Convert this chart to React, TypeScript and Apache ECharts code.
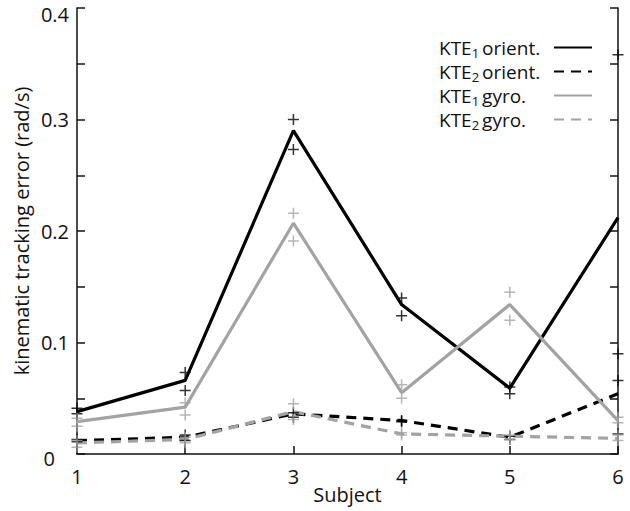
import React, { useEffect, useRef } from "react";
import * as echarts from "echarts";

const subjects = [1, 2, 3, 4, 5, 6];
const yTicks = [0, 0.1, 0.2, 0.3, 0.4];

const seriesNames = ["KTE1 orient.", "KTE2 orient.", "KTE1 gyro.", "KTE2 gyro."];

const kte1OrientMean = [0.038, 0.066, 0.290, 0.134, 0.059, 0.212];
const kte2OrientMean = [0.012, 0.015, 0.036, 0.030, 0.015, 0.054];
const kte1GyroMean = [0.029, 0.042, 0.207, 0.055, 0.134, 0.030];
const kte2GyroMean = [0.010, 0.013, 0.038, 0.018, 0.016, 0.014];

const kte1OrientTrialA = [0.041, 0.073, 0.300, 0.140, 0.060, 0.358];
const kte1OrientTrialB = [0.036, 0.057, 0.273, 0.124, 0.054, 0.066];
const kte2OrientTrialA = [0.013, 0.017, 0.037, 0.029, 0.016, 0.090];
const kte2OrientTrialB = [0.011, 0.012, 0.033, 0.030, 0.013, 0.018];
const kte1GyroTrialA = [0.032, 0.046, 0.216, 0.062, 0.145, 0.033];
const kte1GyroTrialB = [0.025, 0.035, 0.191, 0.050, 0.120, 0.028];
const kte2GyroTrialA = [0.012, 0.015, 0.045, 0.017, 0.017, 0.017];
const kte2GyroTrialB = [0.006, 0.010, 0.031, 0.019, 0.013, 0.012];

const BLACK = "#000000";
const GRAY = "#a3a3a3";
const FONT = "Open Sans";

const pair = (vals: number[]) => subjects.map((s, i) => [s, vals[i]]);

export default function App() {
  const ref = useRef<HTMLDivElement>(null);
  useEffect(() => {
    document.body.style.margin = "0";
    const chart = echarts.init(ref.current!, null, { renderer: "svg" });
    const lineSeries = (name: string, vals: number[], color: string, dashed: boolean) => ({
      name,
      type: "line",
      data: pair(vals),
      symbol: "none",
      lineStyle: { color, width: 3.2, type: dashed ? [10, 7] : "solid" },
      itemStyle: { color },
      z: 3,
    });
    const plus = "path://M5,0V10M0,5H10";
    const markerSeries = (vals: number[], color: string) => ({
      type: "scatter",
      data: pair(vals),
      symbol: plus,
      symbolSize: 11,
      itemStyle: { color: "none", borderColor: color, borderWidth: 1.5 },
      z: 4,
      silent: true,
    });
    const richLegend = {
      a: { fontFamily: FONT, fontSize: 19, color: "#111", lineHeight: 23, align: "left" },
      s: { fontFamily: FONT, fontSize: 13, color: "#111", lineHeight: 11, verticalAlign: "bottom", align: "left", padding: [0, 3, 0, 0] },
      b: { fontFamily: FONT, fontSize: 19, color: "#111", lineHeight: 23, align: "left" },
    };
    const option: any = {
      animation: false,
      backgroundColor: "#fff",
      grid: { left: 77, right: 12, top: 8, bottom: 57, outerBoundsMode: "none", containLabel: false },
      legend: {
        data: seriesNames,
        right: 32,
        top: 33,
        orient: "vertical",
        align: "right",
        itemWidth: 38,
        itemHeight: 14,
        itemGap: 3,
        itemStyle: { opacity: 0 },
        textStyle: { fontFamily: FONT, fontSize: 19, color: "#111", width: 110, rich: richLegend },
        formatter: (name: string) => {
          const m = name.match(/^KTE(\d) (.*)$/);
          if (!m) return name;
          return `{a|KTE}{s|${m[1]}}{b|${m[2]}}`;
        },
      },
      xAxis: {
        type: "value",
        min: 1,
        max: 6,
        interval: 1,
        name: "Subject",
        nameLocation: "middle",
        nameGap: 30,
        nameMoveOverlap: false,
        nameTextStyle: { fontFamily: FONT, fontSize: 20, color: "#111" },
        axisLine: { show: true, lineStyle: { color: "#111", width: 1.5 } },
        axisTick: { show: true, inside: true, length: 8, lineStyle: { color: "#111", width: 1.5 } },
        axisLabel: { fontFamily: FONT, fontSize: 20, color: "#111", margin: 12 },
        splitLine: { show: false },
      },
      yAxis: [
        {
          type: "value",
          min: 0,
          max: 0.4,
          interval: 0.1,
          name: "kinematic tracking error (rad/s)",
          nameLocation: "middle",
          nameRotate: 90,
          nameGap: 46,
          nameMoveOverlap: false,
          nameTextStyle: { fontFamily: FONT, fontSize: 20, color: "#111" },
          axisLine: { show: true, lineStyle: { color: "#111", width: 1.5 } },
          axisTick: { show: true, inside: true, length: 8, lineStyle: { color: "#111", width: 1.5 } },
          minorTick: { show: true, splitNumber: 2, length: 8, lineStyle: { color: "#111", width: 1.5 } },
          axisLabel: {
            fontFamily: FONT,
            fontSize: 20,
            color: "#111",
            margin: 8,
            formatter: (v: number) => {
              const t = yTicks.find((k) => Math.abs(k - v) < 1e-9);
              if (t === undefined) return "";
              if (t === 0) return "{z|0}";
              if (t === 0.4) return "{top|0.4}";
              return String(t);
            },
            rich: {
              z: { fontFamily: FONT, fontSize: 20, color: "#111", padding: [8, 14, 0, 0] },
              top: { fontFamily: FONT, fontSize: 20, color: "#111", padding: [12, 0, 0, 0] },
            },
          },
          splitLine: { show: false },
        },
        {
          type: "value",
          position: "right",
          min: 0,
          max: 0.4,
          interval: 0.1,
          axisLine: { show: true, lineStyle: { color: "#111", width: 1.5 } },
          axisTick: { show: true, inside: true, length: 8, lineStyle: { color: "#111", width: 1.5 } },
          minorTick: { show: true, splitNumber: 2, length: 8, lineStyle: { color: "#111", width: 1.5 } },
          axisLabel: { show: false },
          splitLine: { show: false },
        },
      ],
      series: [
        lineSeries(seriesNames[0], kte1OrientMean, BLACK, false),
        lineSeries(seriesNames[1], kte2OrientMean, BLACK, true),
        lineSeries(seriesNames[2], kte1GyroMean, GRAY, false),
        lineSeries(seriesNames[3], kte2GyroMean, GRAY, true),
        markerSeries(kte1OrientTrialA, BLACK),
        markerSeries(kte1OrientTrialB, BLACK),
        markerSeries(kte2OrientTrialA, BLACK),
        markerSeries(kte2OrientTrialB, BLACK),
        markerSeries(kte1GyroTrialA, GRAY),
        markerSeries(kte1GyroTrialB, GRAY),
        markerSeries(kte2GyroTrialA, GRAY),
        markerSeries(kte2GyroTrialB, GRAY),
      ],
    };
    chart.setOption(option);
    return () => chart.dispose();
  }, []);
  return <div ref={ref} style={{ width: 630, height: 511 }} />;
}
